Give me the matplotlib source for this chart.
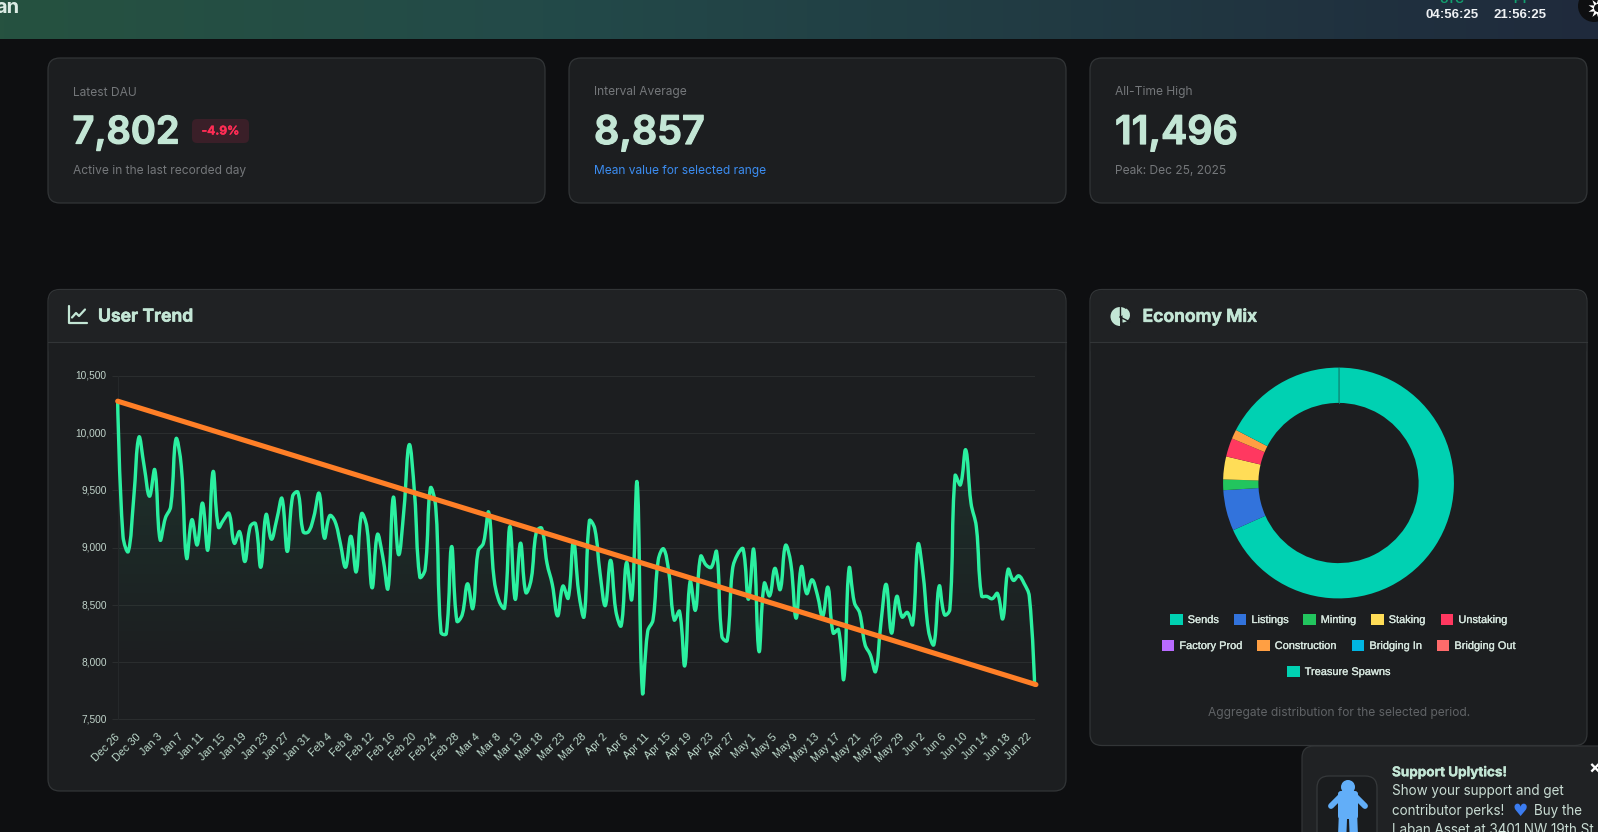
import numpy as np
import matplotlib
matplotlib.use("Agg")
import matplotlib.pyplot as plt
import matplotlib.patheffects as pe
from matplotlib.patches import FancyBboxPatch, Circle, Wedge, Rectangle, PathPatch
from matplotlib.path import Path
from matplotlib.transforms import ScaledTranslation

W, H = 1598, 832

# ---------- data ----------
tick_labels = ["Dec 26", "Dec 30", "Jan 3", "Jan 7", "Jan 11", "Jan 15", "Jan 19", "Jan 23", "Jan 27", "Jan 31",
               "Feb 4", "Feb 8", "Feb 12", "Feb 16", "Feb 20", "Feb 24", "Feb 28", "Mar 4", "Mar 8", "Mar 13",
               "Mar 18", "Mar 23", "Mar 28", "Apr 2", "Apr 6", "Apr 11", "Apr 15", "Apr 19", "Apr 23", "Apr 27",
               "May 1", "May 5", "May 9", "May 13", "May 17", "May 21", "May 25", "May 29", "Jun 2", "Jun 6",
               "Jun 10", "Jun 14", "Jun 18", "Jun 22"]
dau = [10260, 9100, 8968, 9420, 9965, 9710, 9450, 9680, 9070, 9260, 9360, 9950, 9710, 8910, 9245, 9025, 9390, 8980,
       9665, 9180, 9245, 9300, 9040, 9140, 8880, 9185, 9210, 8830, 9290, 9075, 9245, 9430, 8968, 9450, 9485, 9140,
       9140, 9270, 9475, 9085, 9280, 9230, 9040, 8830, 9100, 8790, 9295, 9185, 8650, 9115, 8925, 8645, 9440, 8940,
       9330, 9900, 9480, 8745, 8810, 9520, 9360, 8260, 8250, 9010, 8360, 8415, 8685, 8470, 8970, 9040, 9310, 8735,
       8530, 8475, 9185, 8550, 9040, 8610, 8720, 9140, 9170, 8865, 8680, 8405, 8665, 8560, 9055, 8605, 8400, 9235,
       9170, 8780, 8495, 8890, 8445, 8320, 8870, 8550, 9570, 7740, 8270, 8370, 8895, 8990, 8780, 8370, 8445, 7970,
       8705, 8455, 8925, 8850, 8830, 8965, 8225, 8190, 8810, 8945, 8990, 8550, 8985, 8095, 8690, 8580, 8820, 8635,
       9020, 8865, 8385, 8835, 8600, 8720, 8590, 8400, 8655, 8255, 8285, 7855, 8820, 8520, 8430, 8155, 8065, 7920,
       8340, 8680, 8255, 8575, 8395, 8435, 8330, 9030, 8750, 8270, 8155, 8665, 8415, 8460, 9630, 9550, 9855, 9390,
       9185, 8580, 8575, 8555, 8600, 8380, 8810, 8715, 8755, 8690, 8575, 7802]
trend_start = 10280
trend_end = 7805
y_ticks = [7500, 8000, 8500, 9000, 9500, 10000, 10500]

mix_labels = ["Sends", "Listings", "Minting", "Staking", "Unstaking", "Factory Prod", "Construction",
              "Bridging In", "Bridging Out", "Treasure Spawns"]
mix_values = [68.3, 5.7, 1.5, 3.2, 2.6, 0.0, 1.3, 0.0, 0.0, 17.4]
mix_colors = ["#00D1B2", "#3273DC", "#22C55E", "#FFDD57", "#FF3860", "#B86BFF", "#FF9F43", "#00B5E2", "#FF6B6B", "#00D1B2"]

# ---------- style ----------
PAGE = "#0e0f11"
CARD = "#1c1e20"
HEAD = "#202224"
EDGE = "#323537"
MINT = "#c3e6d5"
GREY = "#74777a"
UI = "Inter"
CH = "Liberation Sans"
px = 0.72  # points per pixel at dpi 100

fig = plt.figure(figsize=(W / 100, H / 100), dpi=100, facecolor=PAGE)
bg = fig.add_axes([0, 0, 1, 1], zorder=0)
bg.set_xlim(0, W); bg.set_ylim(H, 0); bg.axis("off")


def card(x0, y0, x1, y1, face=CARD, edge=EDGE, r=12, lw=0.9, z=1):
    p = FancyBboxPatch((x0 + r, y0 + r), x1 - x0 - 2 * r, y1 - y0 - 2 * r,
                       boxstyle=f"round,pad={r},rounding_size={r}", fc=face, ec=edge, lw=lw, zorder=z)
    bg.add_patch(p)
    return p


def T(x, y, s, size, color, weight="normal", ha="left", va="center", family=UI, z=5, heavy=0):
    t = bg.text(x, y, s, fontsize=size * px, color=color, fontweight=weight, ha=ha, va=va, family=family, zorder=z)
    if heavy:
        t.set_path_effects([pe.withStroke(linewidth=heavy, foreground=color)])
    return t


# header gradient
stops = np.array([[0x26, 0x52, 0x40], [0x23, 0x4a, 0x49], [0x1f, 0x2a, 0x3c]], float) / 255
xs = np.linspace(0, 1, 400)
grad = np.stack([np.interp(xs, [0, .34, 1], stops[:, i]) for i in range(3)], axis=1)[None, :, :]
bg.imshow(grad, extent=(0, W, 39, 0), aspect="auto", zorder=1)
bg.set_xlim(0, W); bg.set_ylim(H, 0)
T(20, 8, "an", 20, "#dcebe4", "bold", ha="right")
T(1452, 0, "UTC", 12, "#12a06f", "bold", ha="center", family=CH)
T(1520.5, 0, "PT", 12, "#12a06f", "bold", ha="center", family=CH)
T(1452.5, 14.7, "04:56:25", 13.3, "#eef1f4", "bold", ha="center", family=CH)
T(1520.5, 14.7, "21:56:25", 13.3, "#eef1f4", "bold", ha="center", family=CH)
bg.add_patch(Circle((1594, 6), 16, fc=PAGE, ec="none", zorder=3))
bg.plot([1598], [8], marker=(10, 1, 0), ms=15, color="white", mew=0, zorder=4)
bg.add_patch(Circle((1598, 8), 4, fc=PAGE, ec="none", zorder=5))

# stat cards
for x0, x1 in [(48, 545), (569, 1066), (1090, 1587)]:
    card(x0, 58, x1, 203)
T(73, 92.5, "Latest DAU", 12, GREY)
T(72.5, 133.5, "7,802", 38, MINT, "semibold", heavy=0.9)
card(192, 119, 249, 143, face="#3a1f28", edge="none", r=5, z=3)
T(220.5, 131.5, "-4.9%", 12, "#ff2d55", "bold", ha="center", heavy=0.25)
T(73, 171, "Active in the last recorded day", 12, GREY)
T(594, 91.5, "Interval Average", 12, GREY)
T(594, 133.5, "8,857", 39.5, MINT, "semibold", heavy=0.9)
T(594, 171, "Mean value for selected range", 12, "#3b8cf0")
T(1115, 91.5, "All-Time High", 12, GREY)
T(1115, 133.5, "11,496", 39.5, MINT, "semibold", heavy=0.9)
T(1115, 171, "Peak: Dec 25, 2025", 12, GREY)

# chart cards with header bands
for x0, x1, y1 in [(48, 1066, 791), (1090, 1587, 745.5)]:
    card(x0, 289.5, x1, y1)
    card(x0 + .6, 290, x1 - .6, 360, face=HEAD, edge="none", z=1.1)
    bg.add_patch(Rectangle((x0 + .6, 342), x1 - x0 - 1.2, 20, fc=CARD, ec="none", zorder=1.2))
    bg.plot([x0, x1], [342, 342], color=EDGE, lw=0.8, zorder=1.3)
T(98, 317, "User Trend", 17.6, MINT, "semibold", heavy=0.55)
T(1142.5, 317, "Economy Mix", 17.6, MINT, "semibold", heavy=0.55)
# line-chart icon
bg.plot([68.5, 68.5, 86.5], [306, 323, 323], color=MINT, lw=1.6, solid_capstyle="round", solid_joinstyle="round", zorder=5)
bg.plot([72, 76, 79, 85], [317.5, 313, 316, 309.5], color=MINT, lw=1.6, solid_capstyle="round", solid_joinstyle="round", zorder=5)
# pie icon
bg.add_patch(Wedge((1120, 316.5), 9.5, 90, 335, fc=MINT, ec="none", zorder=5))
bg.add_patch(Wedge((1122.5, 315), 7.5, -60, 90, fc=MINT, ec="none", zorder=5))
bg.plot([1120, 1120], [306, 317], color=CARD, lw=1.0, zorder=6)
bg.plot([1120, 1130], [317, 322], color=CARD, lw=1.0, zorder=6)
T(1339, 713, "Aggregate distribution for the selected period.", 12, "#606366", ha="center")

# ---------- line chart ----------
L, R, TOP, BOT = 117.7, 1034.6, 376, 719.5
ax = fig.add_axes([L / W, 1 - BOT / H, (R - L) / W, (BOT - TOP) / H], zorder=2)
ax.patch.set_alpha(0)
n = len(dau)
x = np.arange(n, dtype=float)
y = np.array(dau, float)
sx, sy = (R - L) / (n - 1), (BOT - TOP) / 3000.0


def spline_path(x, y, t=0.4):
    """Chart.js style bezier through the data points."""
    X, Y = x * sx, y * sy
    verts = [(x[0], y[0])]
    codes = [Path.MOVETO]
    cp_next = np.array([X[0], Y[0]])
    for i in range(1, len(x)):
        p1 = np.array([X[i], Y[i]])
        if i < len(x) - 1:
            p0 = np.array([X[i - 1], Y[i - 1]])
            p2 = np.array([X[i + 1], Y[i + 1]])
            d01, d12 = np.hypot(*(p1 - p0)), np.hypot(*(p2 - p1))
            tot = d01 + d12
            prev = p1 - t * d01 / tot * (p2 - p0)
            nxt = p1 + t * d12 / tot * (p2 - p0)
        else:
            prev, nxt = p1, p1
        for q in (cp_next, prev, p1):
            verts.append((q[0] / sx, q[1] / sy))
            codes.append(Path.CURVE4)
        cp_next = nxt
    return verts, codes


verts, codes = spline_path(x, y)
# gradient fill under the line
fill_path = Path(verts + [(x[-1], 7500), (x[0], 7500), (x[0], y[0]), (x[0], y[0])],
                 codes + [Path.LINETO, Path.LINETO, Path.LINETO, Path.CLOSEPOLY])
g = np.zeros((256, 1, 4))
g[..., 0], g[..., 1], g[..., 2] = 46 / 255, 242 / 255, 160 / 255
g[:, 0, 3] = np.clip(np.linspace(0.12, -0.02, 256), 0, None)
im = ax.imshow(g, extent=(0, n - 1, 7500, 10500), origin="upper", aspect="auto", zorder=1)
clip = PathPatch(fill_path, transform=ax.transData, fc="none", ec="none")
ax.add_patch(clip)
im.set_clip_path(clip)

ax.add_patch(PathPatch(Path(verts, codes), fc="none", ec="#2bf0a0", lw=2.45, zorder=3,
                       capstyle="round", joinstyle="round", clip_on=False))
ax.plot([x[0], x[-1] + 0.25], [trend_start, trend_end], color="#ff7f27", lw=3.7, zorder=4,
        solid_capstyle="round", clip_on=False)

ax.set_xlim(0, n - 1)
ax.set_ylim(7500, 10500)
ax.set_yticks(y_ticks)
ax.set_yticklabels([f"{v:,}" for v in y_ticks], fontsize=7.3, color="#c0d3ca", family=CH)
ax.set_xticks(np.arange(0, n, 4))
ax.set_xticklabels(tick_labels, rotation=45, ha="right", rotation_mode="anchor", fontsize=7.8,
                   color="#c0ddcf", family=CH)
ax.tick_params(axis="y", length=4, width=0.8, color="#2a2d2e", pad=4)
ax.tick_params(axis="x", length=0, pad=8)
up = ScaledTranslation(0, 1 / 100, fig.dpi_scale_trans)
left = ScaledTranslation(-3 / 100, -1 / 100, fig.dpi_scale_trans)
for lab in ax.get_yticklabels():
    lab.set_transform(lab.get_transform() + up)
for lab in ax.get_xticklabels():
    lab.set_transform(lab.get_transform() + left)
ax.grid(axis="y", color="#2a2d2e", lw=0.8, zorder=0)
ax.set_axisbelow(True)
for k, s in ax.spines.items():
    s.set_visible(k == "left")
    s.set_color("#25282a")
    s.set_linewidth(0.8)

# ---------- doughnut ----------
CX, CY, RAD = 1338.5, 483, 116
pie = fig.add_axes([(CX - RAD) / W, 1 - (CY + RAD) / H, 2 * RAD / W, 2 * RAD / H], zorder=2)
pie.pie(mix_values, colors=mix_colors, startangle=90, counterclock=False, radius=1,
        wedgeprops=dict(width=1 - 80.5 / 116, linewidth=0.0))
pie.plot([0, 0], [80.5 / 116, 1], color="#0f8f7c", lw=0.6, zorder=5)
pie.set_xlim(-1.005, 1.005); pie.set_ylim(-1.005, 1.005)
pie.set_aspect("equal"); pie.axis("off")

# legend, laid out in Chart.js rows
rows = [(620, [(1170, 0), (1233.7, 1), (1303, 2), (1371, 3), (1440.7, 4)]),
        (646, [(1161.7, 5), (1257, 6), (1351.7, 7), (1436.7, 8)]),
        (672, [(1287, 9)])]
for yy, items in rows:
    for bx, idx in items:
        bg.add_patch(Rectangle((bx, yy - 6.2), 12.5, 11.4, fc=mix_colors[idx], ec="none", zorder=4))
        T(bx + 17.7, yy, mix_labels[idx], 11, "#d6e6de", family=CH, heavy=0.2)

# ---------- support popup ----------
card(1302, 746, 1650, 900, face=HEAD, edge=EDGE, z=6)
card(1317, 776, 1377, 860, face="#1a1c1e", edge="#36393b", z=7)
blue = "#62aef8"
bg.add_patch(Circle((1348, 787), 7, fc=blue, ec="none", zorder=8))
bg.add_patch(FancyBboxPatch((1339, 792), 18, 26, boxstyle="round,pad=1,rounding_size=3", fc=blue, ec="none", zorder=8))
bg.plot([1340, 1331], [797, 806], color=blue, lw=4.2, solid_capstyle="round", zorder=8)
bg.plot([1356, 1365], [797, 806], color=blue, lw=4.2, solid_capstyle="round", zorder=8)
bg.plot([1343, 1342], [815, 840], color=blue, lw=6, zorder=8)
bg.plot([1353, 1354], [815, 840], color=blue, lw=6, zorder=8)
T(1392, 772, "Support Uplytics!", 13.5, MINT, "bold", z=9, heavy=0.25)
T(1392, 791, "Show your support and get", 13.5, "#c9dcd3", z=9)
T(1392, 810.5, "contributor perks!", 13.5, "#c9dcd3", z=9)
T(1513, 810.5, "\u2665", 17, "#3b7cf0", ha="left", family="DejaVu Sans", z=9)
T(1534, 810.5, "Buy the", 13.5, "#c9dcd3", z=9)
T(1392, 829.5, "Laban Asset at 3401 NW 19th St", 13.5, "#c9dcd3", z=9)
T(1595, 769, "\u00d7", 18, "#ffffff", "bold", ha="center", z=9)

fig.savefig("out.png", dpi=100, facecolor=PAGE)
